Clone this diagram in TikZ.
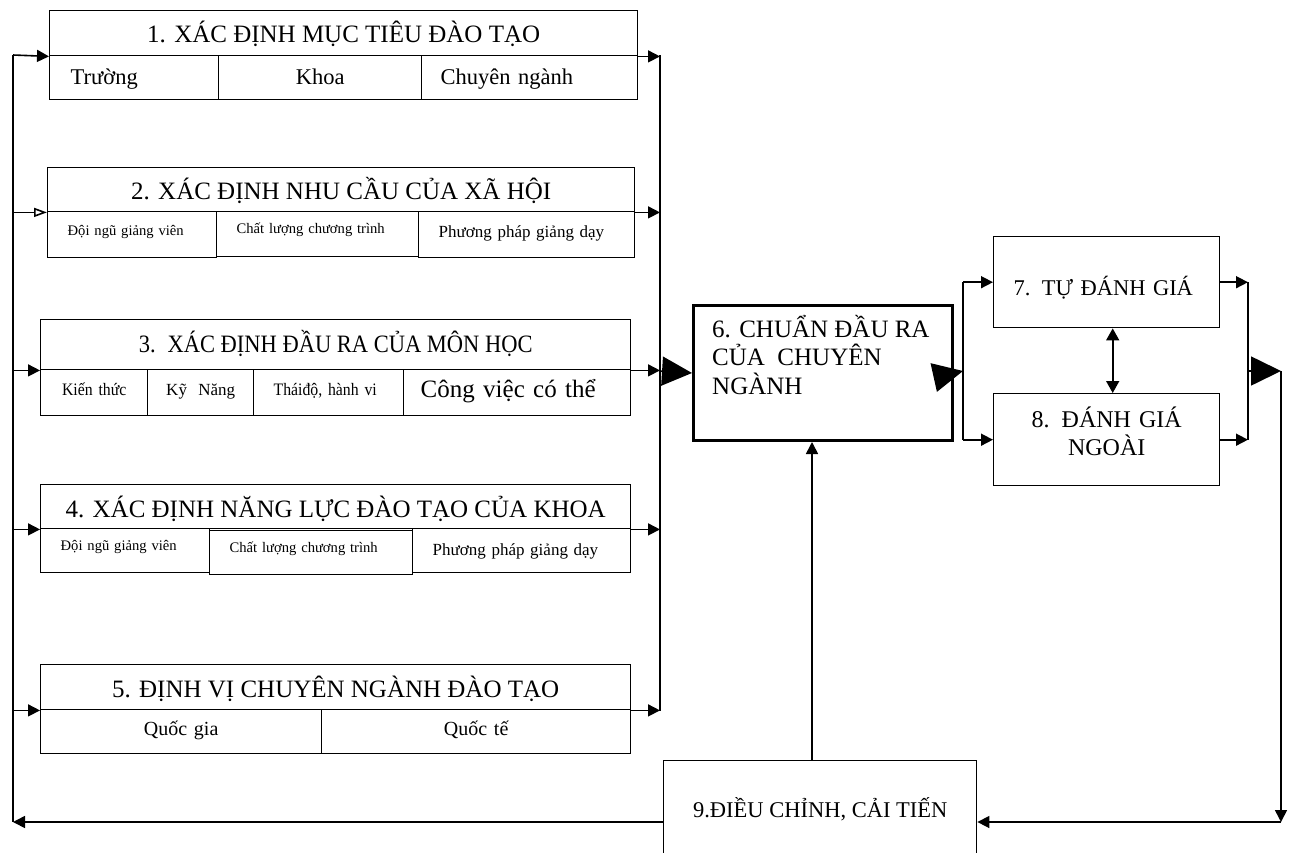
\documentclass[tikz,border=0pt]{standalone}
\usepackage{fontspec}
\setmainfont{Liberation Serif}
\newfontfamily\narrowserif[FakeStretch=0.9]{Liberation Serif}
\usetikzlibrary{arrows.meta,calc}
\begin{document}
\begin{tikzpicture}[x=1pt,y=-1pt,
  box/.style={draw, line width=1.4pt, inner sep=0pt, anchor=north west, align=center},
  thickbox/.style={box, line width=3pt},
  % cell text set flush left with a 20pt margin; #1 is the text width
  lcell/.style={align=left, inner xsep=20pt, text width=#1},
  % baseline offset below the cell centre: text height = 2 x offset
  bl/.style={text height=#1, text depth=0pt},
  conn/.style={line width=1.6pt},
  arr/.style={conn, -{Triangle[length=12pt,width=12pt]}},
  arrsmall/.style={conn, -{Triangle[open,length=13pt,width=9pt]}},
  bigarr/.style={conn, -{Triangle[length=30pt,width=29pt]}},
  darr/.style={conn, {Triangle[length=12pt,width=13pt]}-{Triangle[length=12pt,width=13pt]}},
  ttl/.style={font=\fontsize{25}{28}\selectfont},
  fa/.style={font=\fontsize{22.5}{26}\selectfont},
  fb/.style={font=\fontsize{14.6}{17}\selectfont},
  fc/.style={font=\fontsize{17}{20}\selectfont},
  fd/.style={font=\narrowserif\fontsize{17.5}{21}\selectfont},
  fe/.style={font=\fontsize{20}{24}\selectfont},
]
\clip (0,0) rectangle (1293,852);

% ---- 1. objectives
\node[box, ttl, bl=18pt, minimum width=588pt, minimum height=45pt] (t1) at (49,10) {1. XÁC ĐỊNH MỤC TIÊU ĐÀO TẠO};
\node[box, fa, bl=14pt, minimum width=169pt, minimum height=44pt, lcell=127pt, inner xsep=21pt] (c1a) at (49,55) {Trường};
\node[box, fa, bl=14pt, minimum width=203pt, minimum height=44pt, text width=203pt] (c1b) at (218,55) {Khoa};
\node[box, fa, bl=14pt, minimum width=216pt, minimum height=44pt, lcell=178pt, inner xsep=19pt] (c1c) at (421,55) {Chuyên ngành};

% ---- 2. social needs
\node[box, ttl, bl=20pt, minimum width=587pt, minimum height=44pt] (t2) at (47,167) {2. XÁC ĐỊNH NHU CẦU CỦA XÃ HỘI};
\node[box, fb, bl=2pt, minimum width=169pt, minimum height=46pt, lcell=129pt] (c2a) at (47,211) {Đội ngũ giảng viên};
\node[box, fb, text height=0pt, text depth=1pt, minimum width=202pt, minimum height=45pt, lcell=162pt] (c2b) at (216,211) {Chất lượng chương trình};
\node[box, fc, bl=6pt, minimum width=216pt, minimum height=46pt, lcell=176pt] (c2c) at (418,211) {Phương pháp giảng dạy};

% ---- 3. course outcomes
\node[box, font=\narrowserif\fontsize{25}{28}\selectfont, bl=16pt, minimum width=590pt, minimum height=50pt] (t3) at (40,319)
  {3.\hspace{12pt}XÁC ĐỊNH ĐẦU RA CỦA MÔN HỌC};
\node[box, fd, bl=6pt, minimum width=107pt, minimum height=46pt, text width=107pt] (c3a) at (40,369) {Kiến thức};
\node[box, fc, bl=6pt, minimum width=106pt, minimum height=46pt, text width=106pt] (c3b) at (147,369) {Kỹ\ \ Năng};
\node[box, fd, bl=6pt, minimum width=150pt, minimum height=46pt, lcell=110pt] (c3c) at (253,369) {Tháiđộ, hành vi};
\node[box, font=\fontsize{25}{30}\selectfont, bl=10pt, minimum width=227pt, minimum height=46pt, lcell=193pt, inner xsep=17pt] (c3d) at (403,369) {Công việc có thể};

% ---- 4. faculty capacity
\node[box, ttl, bl=22pt, minimum width=590pt, minimum height=44pt] (t4) at (40,484) {4. XÁC ĐỊNH NĂNG LỰC ĐÀO TẠO CỦA KHOA};
\node[box, fb, bl=0pt, minimum width=169pt, minimum height=44pt, lcell=129pt] (c4a) at (40,528) {Đội ngũ giảng viên};
\node[box, fb, bl=0pt, minimum width=203pt, minimum height=44pt, lcell=163pt] (c4b) at (209,530) {Chất lượng chương trình};
\node[box, fc, bl=10pt, minimum width=218pt, minimum height=44pt, lcell=178pt] (c4c) at (412,528) {Phương pháp giảng dạy};

% ---- 5. positioning
\node[box, ttl, bl=21pt, minimum width=590pt, minimum height=45pt] (t5) at (40,664) {5. ĐỊNH VỊ CHUYÊN NGÀNH ĐÀO TẠO};
\node[box, fe, bl=8pt, minimum width=281pt, minimum height=44pt, text width=281pt] (c5a) at (40,709) {Quốc gia};
\node[box, fe, bl=7pt, minimum width=309pt, minimum height=44pt, text width=309pt] (c5b) at (321,709) {Quốc tế};

% ---- 6. programme outcomes
\node[thickbox, minimum width=259pt, minimum height=135pt] (n6) at (692,304) {};
\node[anchor=base west, inner sep=0pt, align=left, font=\fontsize{25}{28.5}\selectfont] (n6t) at (712,394)
  {6. CHUẨN ĐẦU RA\\CỦA\ \ CHUYÊN\\NGÀNH};

% ---- 7, 8. assessment
\node[box, font=\fontsize{22.5}{28}\selectfont, bl=26pt, minimum width=226pt, minimum height=91pt, lcell=186pt] (n7) at (993,236) {7. TỰ ĐÁNH GIÁ};
\node[box, font=\fontsize{24}{28}\selectfont, text height=4pt, text depth=28pt, minimum width=226pt, minimum height=92pt, text width=226pt] (n8) at (993,393) {8. ĐÁNH GIÁ\\NGOÀI};

% ---- 9. adjustment
\node[box, font=\fontsize{22.5}{26}\selectfont, bl=4pt, minimum width=313pt, minimum height=110pt] (n9) at (663,760) {9.ĐIỀU CHỈNH, CẢI TIẾN};

% ---- buses and junctions
\coordinate (lb1) at (13,55);
\coordinate (lb9) at (13,822);
\coordinate (rb1) at (660,55);
\coordinate (rb5) at (660,711);
\coordinate (rb3) at (660,371);
\coordinate (sp) at (963,371);
\coordinate (jr) at (1248,371);
\coordinate (ro) at (1281,371);
\coordinate (upx) at (812,600);

% left feedback bus into boxes 1-5
\draw[conn] (lb1) -- (lb9);
\draw[arr] (lb1) -- (t1.south west);
\draw[arrsmall] (lb1 |- t2.south west) -- (t2.south west);
\draw[arr] (lb1 |- t3.south west) -- (t3.south west);
\draw[arr] (lb1 |- t4.south west) -- (t4.south west);
\draw[arr] (lb1 |- t5.south west) -- (t5.south west);

% right bus collecting boxes 1-5
\draw[conn] (rb1) -- (rb5);
\draw[arr] (t1.south east) -- (rb1 |- t1.south east);
\draw[arr] (t2.south east) -- (rb1 |- t2.south east);
\draw[arr] (t3.south east) -- (rb1 |- t3.south east);
\draw[arr] (t4.south east) -- (rb1 |- t4.south east);
\draw[arr] (t5.south east) -- (rb1 |- t5.south east);
\draw[bigarr] (rb3) -- (n6.west);

% 6 -> 7, 8
\draw[bigarr] (n6.east) -- (sp);
\draw[conn] (sp |- n7.west) -- (sp |- n8.west);
\draw[arr] (sp |- n7.west) -- (n7.west);
\draw[arr] (sp |- n8.west) -- (n8.west);
\draw[darr] ([xshift=6pt]n7.south) -- ([xshift=6pt]n8.north);

% 7, 8 -> 9
\draw[arr] (n7.east) -- (jr |- n7.east);
\draw[arr] (n8.east) -- (jr |- n8.east);
\draw[conn] (jr |- n7.east) -- (jr |- n8.east);
\draw[bigarr] (jr) -- (ro);
\draw[arr] (ro) -- (ro |- lb9);
\draw[arr] (ro |- lb9) -- (n9.east |- lb9);

% 9 -> 6 and 9 -> left bus
\draw[arr] (upx |- n9.north) -- (upx |- n6.south);
\draw[arr] (n9.west |- lb9) -- (lb9);
\end{tikzpicture}
\end{document}
